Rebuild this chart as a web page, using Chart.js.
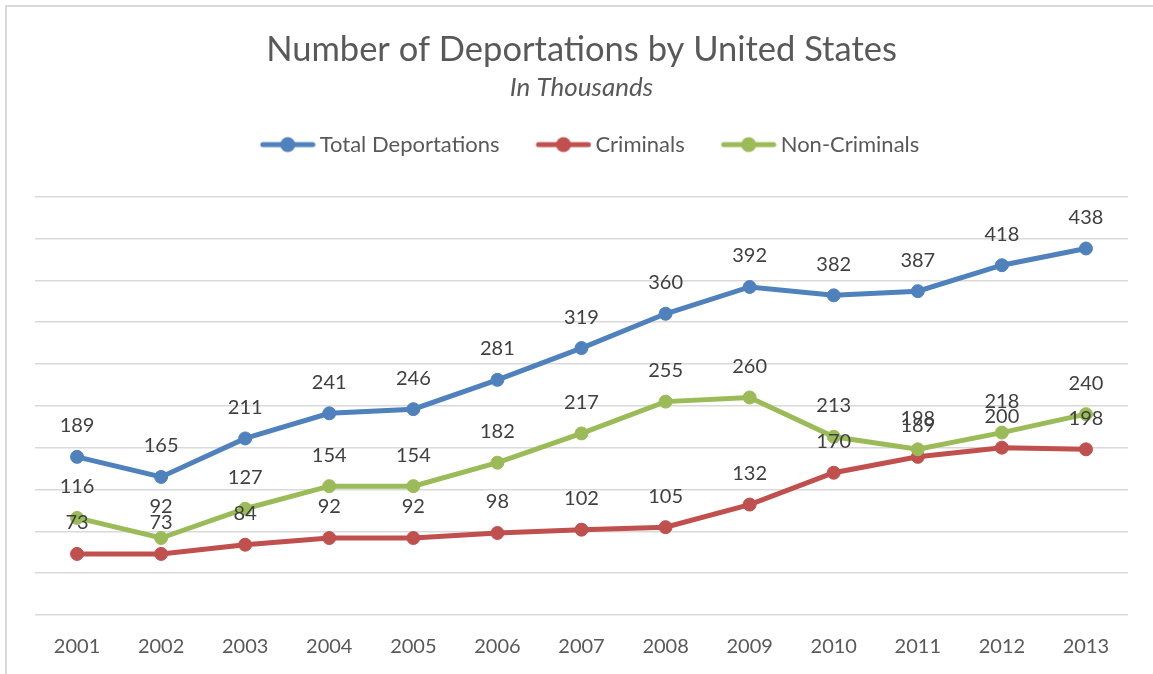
<!DOCTYPE html>
<html>
<head>
<meta charset="utf-8">
<title>Number of Deportations by United States</title>
<script src="https://cdn.jsdelivr.net/npm/chart.js@4.4.1/dist/chart.umd.min.js"></script>
<style>
  html, body { margin: 0; padding: 0; background: #fff; overflow: hidden; }
  .frame {
    position: absolute; left: 5px; top: 5px; width: 1300px; height: 800px;
    border-left: 2px solid #d9d9d9; border-top: 2px solid #d9d9d9;
  }
  .wrap { position: absolute; left: 0; top: 0; width: 1153px; height: 674px; }
</style>
</head>
<body>
<div class="frame"></div>
<div class="wrap"><canvas id="chart"></canvas></div>
<script>
(function () {
  "use strict";

  // values in thousands
  const years = ["2001", "2002", "2003", "2004", "2005", "2006", "2007",
                 "2008", "2009", "2010", "2011", "2012", "2013"];
  const totalDeportations = [189, 165, 211, 241, 246, 281, 319, 360, 392, 382, 387, 418, 438];
  const criminals = [73, 73, 84, 92, 92, 98, 102, 105, 132, 170, 189, 200, 198];
  const nonCriminals = [116, 92, 127, 154, 154, 182, 217, 255, 260, 213, 198, 218, 240];

  // hidden value axis: 0..500, a gridline every 50
  const yMin = 0;
  const yMax = 500;
  const yStep = 50;

  const FONT = "Lato";
  const TEXT = "#595959";
  const LABEL = "#404040";
  const GRID = "#d9d9d9";

  const LABEL_OFFSET = 31;   // data label sits this far above the point
  const LEGEND_PAD = 20;
  const LEGEND_BOX = 65;     // box width chart.js reserves per legend item
  const MARKER_W = 79;       // legend image width (marker sits at its right end)
  const LEGEND_GAP = 31;     // extra room between legend and plot
  const X_AXIS_H = 59;       // room under the plot for the year labels

  const series = [
    {label: "Total Deportations", data: totalDeportations, color: "#4f81bd", order: 2},
    {label: "Criminals", data: criminals, color: "#c0504d", order: 1},
    {label: "Non-Criminals", data: nonCriminals, color: "#9bbb59", order: 0},
  ];

  function legendMarker(color) {
    const c = document.createElement("canvas");
    c.width = MARKER_W;
    c.height = 18;
    const ctx = c.getContext("2d");
    const x0 = MARKER_W - 56;
    ctx.strokeStyle = color;
    ctx.lineWidth = 5;
    ctx.lineCap = "round";
    ctx.beginPath();
    ctx.moveTo(x0 + 3, 9);
    ctx.lineTo(MARKER_W - 3, 9);
    ctx.stroke();
    ctx.fillStyle = color;
    ctx.beginPath();
    ctx.arc(x0 + 28, 9, 7.5, 0, Math.PI * 2);
    ctx.fill();
    return c;
  }

  const markers = series.map((s) => legendMarker(s.color));

  const pointLabels = {
    id: "pointLabels",
    afterDatasetsDraw(chart) {
      const ctx = chart.ctx;
      ctx.save();
      ctx.font = `20px ${FONT}`;
      ctx.fillStyle = LABEL;
      ctx.textAlign = "center";
      ctx.textBaseline = "middle";
      chart.data.datasets.forEach((ds, i) => {
        chart.getDatasetMeta(i).data.forEach((pt, j) => {
          ctx.fillText(String(ds.data[j]), pt.x, pt.y - LABEL_OFFSET);
        });
      });
      ctx.restore();
    },
  };

  const legendGap = {
    id: "legendGap",
    beforeLayout(chart) {
      const lg = chart.legend;
      if (lg && !lg._gapPatched) {
        const fit = lg.fit;
        lg.fit = function () {
          fit.call(this);
          this.height += LEGEND_GAP;
        };
        lg._gapPatched = true;
      }
    },
  };

  new Chart(document.getElementById("chart"), {
    type: "line",
    data: {
      labels: years,
      datasets: series.map((s) => ({
        label: s.label,
        data: s.data,
        order: s.order,
        borderColor: s.color,
        backgroundColor: s.color,
        pointBackgroundColor: s.color,
        pointBorderColor: s.color,
        borderWidth: 5,
        pointRadius: 6.5,
        pointBorderWidth: 1,
        tension: 0,
        fill: false,
      })),
    },
    options: {
      responsive: true,
      maintainAspectRatio: false,
      animation: false,
      layout: {padding: {top: 0, left: 35, right: 25, bottom: 0}},
      scales: {
        x: {
          offset: true,
          grid: {display: false, drawTicks: false},
          border: {display: false},
          ticks: {
            color: TEXT,
            font: {family: FONT, size: 20},
            padding: 20,
            maxRotation: 0,
            autoSkip: false,
          },
          afterFit(scale) {
            scale.height = X_AXIS_H;
          },
        },
        y: {
          min: yMin,
          max: yMax,
          grid: {color: GRID, lineWidth: 1.5, drawTicks: false},
          border: {display: false},
          ticks: {display: false, stepSize: yStep},
        },
      },
      plugins: {
        title: {
          display: true,
          text: "Number of Deportations by United States",
          color: TEXT,
          font: {family: FONT, size: 34.5, weight: "normal"},
          padding: {top: 29, bottom: 0},
        },
        subtitle: {
          display: true,
          text: "In Thousands",
          color: TEXT,
          font: {family: FONT, size: 26, style: "italic"},
          padding: {top: 2, bottom: 10},
        },
        legend: {
          display: true,
          position: "top",
          labels: {
            color: TEXT,
            font: {family: FONT, size: 22},
            padding: LEGEND_PAD,
            usePointStyle: true,
            pointStyleWidth: LEGEND_BOX,
            sort: (a, b) => a.datasetIndex - b.datasetIndex,
            generateLabels(chart) {
              const items = Chart.defaults.plugins.legend.labels.generateLabels(chart);
              items.forEach((item) => {
                item.pointStyle = markers[item.datasetIndex];
              });
              return items;
            },
          },
        },
        tooltip: {enabled: false},
      },
    },
    plugins: [pointLabels, legendGap],
  });
})();
</script>
</body>
</html>
